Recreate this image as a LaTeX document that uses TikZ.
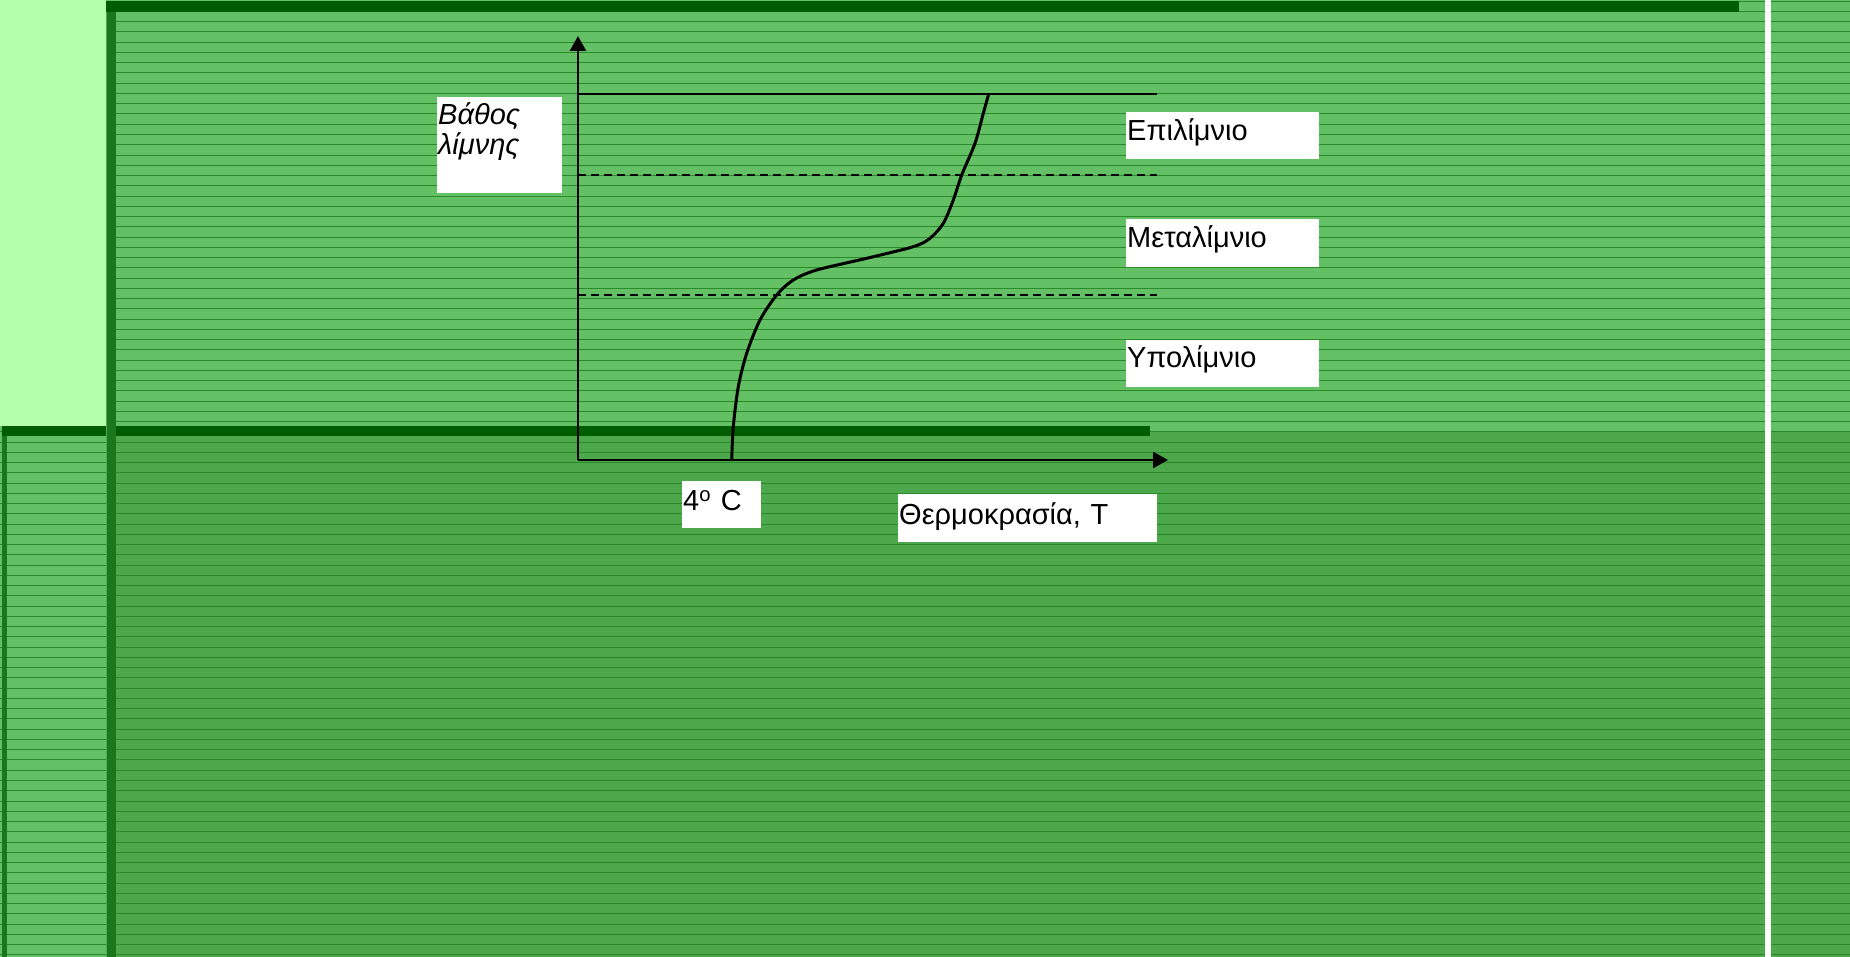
\documentclass[tikz,border=0pt]{standalone}
\usepackage{fontspec}
\setmainfont{Liberation Sans}
\usetikzlibrary{arrows.meta}

\definecolor{paleleaf}{RGB}{180,255,171}
\definecolor{meadow}{RGB}{100,192,100}
\definecolor{meadowdark}{RGB}{76,168,74}
\definecolor{stripe}{RGB}{42,138,42}
\definecolor{barband}{RGB}{0,92,0}
\definecolor{sidebar}{RGB}{28,118,28}

\tikzset{
  axis/.style={line width=2.5pt, -{Triangle[length=15pt,width=16pt]}},
  layerline/.style={line width=2.5pt},
  layerdash/.style={line width=2pt, dash pattern=on 8pt off 5pt},
  profile/.style={line width=3pt, line join=round},
  labelbox/.style={fill=white, inner ysep=0pt, inner xsep=1pt, anchor=north west,
    align=left, font=\fontsize{29}{30}\selectfont},
  plainbox/.style={fill=white, inner sep=0pt, anchor=north west},
  plaintext/.style={inner sep=0pt, anchor=base west, font=\fontsize{29}{30}\selectfont\itshape}
}

\begin{document}
\begin{tikzpicture}[x=1pt,y=-1pt]
\useasboundingbox (0,0) rectangle (1850,957);

% slide background
\fill[meadow] (0,0) rectangle (1850,957);
\fill[meadowdark] (116,431) rectangle (1850,957);
\foreach \k in {0,...,93}{
  \draw[stripe, line width=1pt] (0,{1.2+\k*10.254}) -- (1850,{1.2+\k*10.254});
}
\fill[paleleaf] (0,0) rectangle (106,426);

% frame bars
\fill[barband] (106,1) rectangle (1739,12);
\fill[barband] (2,426) rectangle (1150,436);
\fill[meadow!70!sidebar] (106,12) rectangle (107,957);
\fill[sidebar] (107,12) rectangle (116,957);
\fill[sidebar] (2,436) rectangle (7,957);
\fill[white] (1765,0) rectangle (1771,957);

% axes
\coordinate (origin) at (578,460);
\coordinate (ytop) at (578,36);
\coordinate (xend) at (1168,460);
\draw[axis] (origin) -- (ytop);
\draw[axis] (origin) -- (xend);

% layer boundaries
\coordinate (surfL) at (578,94);   \coordinate (surfR) at (1157,94);
\coordinate (thermL) at (578,175); \coordinate (thermR) at (1157,175);
\coordinate (hypoL) at (578,295);  \coordinate (hypoR) at (1157,295);
\draw[layerline] (surfL) -- (surfR);
\draw[layerdash] (thermL) -- (thermR);
\draw[layerdash] (hypoL) -- (hypoR);

% temperature profile
\draw[profile] plot[smooth, tension=0.5] coordinates {
  (988.7,94) (983.3,113.3) (975,143.3) (961.7,175) (953.3,200) (943.3,223.3)
  (930,238.3) (913.3,246.7) (866.7,258.3) (816.7,270) (793.3,280) (776.7,295)
  (760,320) (746.7,353.3) (738.3,386.7) (733.3,426.7) (731.7,460)};

% labels
\node[plainbox, minimum width=125pt, minimum height=96pt] (depthbox) at (437,97) {};
\node[plaintext] (depth1) at (438,125) {Βάθος};
\node[plaintext] (depth2) at (438,155) {λίμνης};

\node[labelbox, text width=191pt, text height=28pt, text depth=19pt] (epi) at (1126,112) {Επιλίμνιο};
\node[labelbox, text width=191pt, text height=28pt, text depth=20pt] (meta) at (1126,219) {Μεταλίμνιο};
\node[labelbox, text width=191pt, text height=27pt, text depth=20pt] (hypo) at (1126,340) {Υπολίμνιο};
\node[labelbox, text width=77pt, text height=29pt, text depth=18pt] (four) at (682,481) {4\textsuperscript{o} C};
\node[labelbox, text width=257pt, text height=30pt, text depth=18pt] (temp) at (898,494) {Θερμοκρασία, Τ};
\end{tikzpicture}
\end{document}
